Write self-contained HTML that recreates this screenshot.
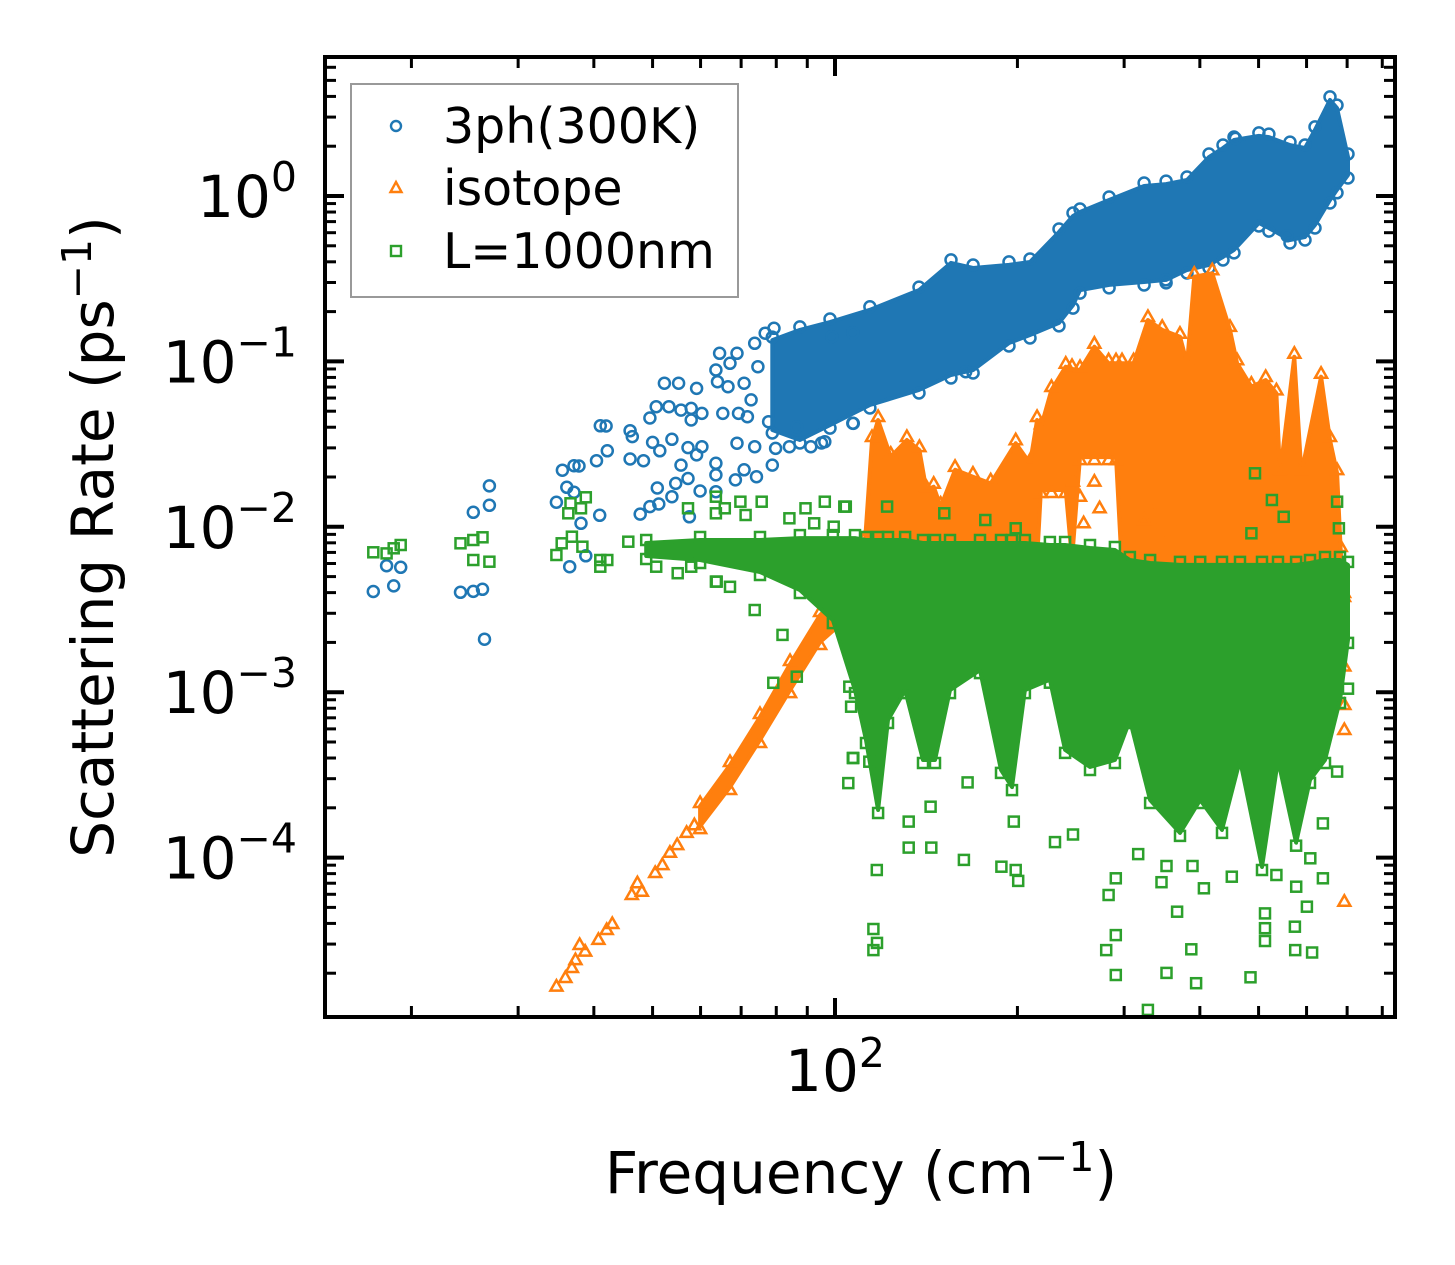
<!DOCTYPE html>
<html><head><meta charset="utf-8"><style>
html,body{margin:0;padding:0;background:#fff;}
svg{display:block;font-family:"DejaVu Sans","Liberation Sans",sans-serif;}
</style></head><body>
<svg id="chart" width="1455" height="1265" viewBox="0 0 1455 1265" xmlns="http://www.w3.org/2000/svg">
<defs><clipPath id="plotclip"><rect x="325" y="57" width="1070" height="960"/></clipPath></defs>
<rect x="0" y="0" width="1455" height="1265" fill="#fff"/>
<g id="marks" clip-path="url(#plotclip)"></g>
<g id="axes"></g>
<text x="861" y="1193" font-size="58" text-anchor="middle">Frequency (cm<tspan font-size="41" dy="-22">−1</tspan><tspan dy="22">)</tspan></text>
<text transform="translate(113,537) rotate(-90)" x="0" y="0" font-size="58" text-anchor="middle">Scattering Rate (ps<tspan font-size="41" dy="-22">−1</tspan><tspan dy="22">)</tspan></text>
<g>
<rect x="351" y="84" width="387" height="213" fill="#fff" fill-opacity="0.8" stroke="#999" stroke-width="2"/>
<circle cx="396" cy="126" r="5" fill="none" stroke="#1f77b4" stroke-width="2.4"/>
<text x="443" y="143" font-size="49">3ph(300K)</text>
<polygon points="396,182 390.5,192 401.5,192" fill="none" stroke="#ff7f0e" stroke-width="2.4"/>
<text x="443" y="205" font-size="49">isotope</text>
<rect x="391" y="246" width="10" height="10" fill="none" stroke="#2ca02c" stroke-width="2.4"/>
<text x="443" y="268" font-size="49">L=1000nm</text>
</g>
</svg>
<script>
// ---- data (frequency in cm^-1, scattering rate in ps^-1) ----
const blueBandF = [78.8,87.5,98.1,114.2,137.6,155.4,169.0,193.7,209.8,234.2,247.0,253.7,283.3,323.6,351.8,380.9,414.2,436.8,455.4,500.7,520.1,563.4,596.5,619.6,655.9,673.6,702.3];
const blueBandHi = [0.1346,0.155,0.173,0.205,0.270,0.394,0.367,0.383,0.399,0.606,0.757,0.800,0.946,1.15,1.18,1.25,1.72,1.95,2.18,2.31,2.27,2.03,1.95,2.51,3.81,3.40,1.72];
const blueBandLo = [0.0385,0.0335,0.0412,0.0545,0.0672,0.0828,0.0887,0.1292,0.1445,0.171,0.219,0.270,0.290,0.302,0.311,0.357,0.383,0.428,0.472,0.687,0.640,0.542,0.565,0.668,0.946,1.09,1.34];
const bluePtsF = [17.3,18.2,18.7,19.2,24.1,25.3,25.3,26.2,26.9,26.9,26.4,34.7,35.5,36.1,37.1,37.8,37.1,38.1,40.9,36.5,38.8,40.4,42.1,41.0,41.9,45.9,46.3,45.9,48.3,47.7,49.5,51.2,50.9,52.3,55.2,50.0,51.4,49.5,50.7,53.2,53.8,55.7,57.9,59.1,60.3,57.2,60.3,59.1,55.7,54.6,57.2,59.9,53.8,57.5,63.6,64.0,64.5,68.9,66.6,65.3,69.3,71.7,63.6,63.6,68.5,70.8,74.2,68.9,73.7,78.8,79.8,63.6,73.7,76.7,79.3,74.6,70.8,72.7,77.7,84.1,91.2,96.2,107,67.1,57.9,557.2,351.4,164.3,107.2,457.9,98.8,107,86.5,95];
const bluePtsR = [0.00406,0.00582,0.00439,0.00569,0.00402,0.01224,0.00407,0.00419,0.01766,0.01349,0.00209,0.01406,0.02198,0.01733,0.0234,0.0233,0.01617,0.0105,0.01174,0.00574,0.00668,0.0251,0.0288,0.0408,0.0407,0.0381,0.0351,0.0257,0.0251,0.01194,0.01324,0.01374,0.01717,0.0738,0.0738,0.0324,0.0288,0.0455,0.0532,0.0532,0.0338,0.0508,0.0520,0.0687,0.0485,0.0301,0.0305,0.0272,0.0236,0.0183,0.0196,0.01645,0.0152,0.0115,0.0887,0.0754,0.112,0.112,0.0703,0.0485,0.0485,0.0463,0.0242,0.0206,0.0192,0.0221,0.0201,0.0320,0.0305,0.0236,0.0298,0.0163,0.1286,0.148,0.1585,0.0929,0.0738,0.0585,0.0432,0.0305,0.0305,0.0327,0.0423,0.0974,0.0442,0.575,0.311,0.0866,0.0422,2.23,0.1410,0.149,0.0402,0.0321];

const orangeBandF = [59.9,67.1,75.2,84.3,94.5,103.9,112.1,115.1,117.8,123.6,131.4,137.8,141.5,145.5,149.4,157.8,168.9,180.7,198.7,209.8,215.5,218.7,227.6,240.3,246.1,253.7,267.9,282.8,290.9,297.6,311.0,328.4,346.7,370.9,381.1,391.6,419.3,448.5,460.8,486.5,513.7,535.1,542.4,572.8,588.4,634.0,655.9,673.9,683.2,691.8];
const orangeBandHi = [0.000205,0.000363,0.000708,0.00148,0.00293,0.00415,0.00832,0.0335,0.0442,0.0265,0.0335,0.0291,0.01668,0.01747,0.01324,0.0221,0.0201,0.0183,0.0320,0.0242,0.0442,0.040,0.0672,0.0929,0.090,0.0887,0.1227,0.0974,0.0974,0.0974,0.0974,0.178,0.155,0.141,0.0974,0.325,0.341,0.155,0.0974,0.0703,0.0772,0.0641,0.0211,0.1067,0.0211,0.0808,0.0335,0.0211,0.00724,0.00361];
const orangeBandLo = [0.000155,0.000267,0.000514,0.00103,0.00201,0.00273,0.00361,0.00512,0.00512,0.00512,0.00512,0.00512,0.00512,0.00512,0.00512,0.00512,0.00512,0.00512,0.00512,0.00512,0.0063,0.01668,0.01668,0.01668,0.0063,0.0264,0.0264,0.0264,0.0264,0.00548,0.00548,0.00548,0.00548,0.00548,0.00548,0.00548,0.00548,0.00548,0.00548,0.00548,0.00548,0.00548,0.00548,0.00548,0.00548,0.00548,0.00548,0.00548,0.00548,0.00415];
const orangePtsF = [34.7,35.9,36.8,37.9,38.7,40.7,42.0,46.2,48.0,50.5,53.4,56.9,37.3,42.9,47.2,51.9,54.9,58.6,247.0,267.9,253.7,273.3,257.2,323.6,339.6,335.0,368.1,692.6,692.6,692.6,692.6];
const orangePtsR = [1.66e-5,1.87e-5,2.15e-5,2.96e-5,2.70e-5,3.18e-5,3.65e-5,5.94e-5,6.22e-5,8.07e-5,1.07e-4,1.41e-4,2.4e-5,3.97e-5,7.0e-5,9.0e-5,1.19e-4,1.57e-4,0.01874,0.01874,0.0152,0.01294,0.0105,0.0110,0.00934,0.01234,0.00934,5.41e-5,5.91e-4,8.37e-4,1.43e-3];

const greenBandF = [48.8,59.9,75.2,87.5,99.2,107.9,112.5,117.8,122.3,130.5,139.7,146.2,154.8,173.5,187.9,195.9,205.8,226.3,239.7,263.5,289.7,306.7,331.1,370.9,400.5,435.1,465.9,506.6,538.3,576.7,607.9,643.6,681.2,702.3];
const greenBandHi = [0.00798,0.00832,0.00832,0.00855,0.00855,0.00855,0.00832,0.00832,0.00832,0.00832,0.00798,0.00798,0.00798,0.00798,0.00798,0.00798,0.00798,0.00776,0.00776,0.00744,0.00724,0.0063,0.00604,0.00588,0.00588,0.00588,0.00588,0.00588,0.00588,0.00588,0.00604,0.0063,0.0063,0.00588];
const greenBandLo = [0.00666,0.0063,0.00533,0.00415,0.00273,0.00103,0.000514,0.000194,0.000679,0.00103,0.000389,0.000389,0.00103,0.00136,0.000339,0.000267,0.00103,0.00119,0.000448,0.000353,0.000389,0.000679,0.000223,0.000141,0.000223,0.000147,0.000389,8.77e-5,0.000389,0.000123,0.000295,0.000389,0.000897,0.00207];
const greenPtsF = [17.3,18.2,18.7,19.2,24.1,25.3,26.2,25.3,26.9,34.7,35.4,36.6,38.8,38.1,36.3,36.8,38.3,41.0,42.1,41.0,45.6,50.7,55.0,57.9,57.2,63.6,63.6,65.8,69.8,75.7,71.2,84.1,89.4,96.2,104.2,92.4,63.6,67.1,73.7,81.9,105.6,106.3,117.2,115.7,117.3,115.7,107.0,105.2,79.1,86.5,63.8,107.2,113.9,132.3,132.3,144.2,143.8,163.2,165.5,188.2,198.7,200.6,197.3,230.7,247.0,282.8,280.2,290.6,290.6,290.6,316.5,345.7,352.4,366.9,352.4,387.2,394.3,389.0,406.2,451.6,484.8,512.4,512.4,512.4,535.1,576.8,574.1,574.6,612.8,600.7,638.4,608.7,638.4,673.9,702.2,328.4,493.3,525.9,673.9,550.0,678.4,486.5,103.6,121.9,151.5,177.0,198.7,99.5];
const greenPtsR = [0.00701,0.00691,0.00741,0.00776,0.00795,0.00832,0.00864,0.0063,0.00615,0.00675,0.00795,0.01387,0.01508,0.01294,0.01207,0.00871,0.00758,0.0063,0.0063,0.00574,0.00813,0.00574,0.00524,0.00574,0.01294,0.0152,0.01207,0.01294,0.01419,0.01419,0.01178,0.01125,0.01294,0.01419,0.01324,0.0105,0.00466,0.00434,0.00314,0.00222,0.00108,0.000817,8.41e-5,3.70e-5,3.05e-5,2.76e-5,4.0e-4,2.82e-4,0.00114,0.00124,0.00466,0.0004,3.80e-4,1.65e-4,1.15e-4,1.15e-4,2.03e-4,9.68e-5,2.85e-4,8.81e-5,8.41e-5,7.23e-5,1.65e-4,1.24e-4,1.38e-4,5.94e-5,2.76e-5,3.40e-5,1.95e-5,7.5e-5,1.05e-4,7.10e-5,8.9e-5,4.71e-5,2.01e-5,2.79e-5,1.74e-5,8.9e-5,6.52e-5,7.67e-5,1.89e-5,4.60e-5,3.74e-5,3.13e-5,7.85e-5,6.67e-5,3.82e-5,2.76e-5,2.67e-5,5.05e-5,7.5e-5,9.9e-5,1.61e-4,3.31e-4,1.05e-3,1.2e-5,0.02105,0.01452,0.01419,0.0115,0.0098,0.00914,0.01324,0.01324,0.01207,0.0110,0.0098,0.01002];

const xMajorTicks = [100];
const xMinorTicks = [20,30,40,50,60,70,80,90,200,300,400,500,600,700,800];
const yMajorTicks = [1,0.1,0.01,0.001,0.0001];
const yMajorExp = ["0","−1","−2","−3","−4"];
const yMinorTicks = [2e-5,3e-5,4e-5,5e-5,6e-5,7e-5,8e-5,9e-5,2e-4,3e-4,4e-4,5e-4,6e-4,7e-4,8e-4,9e-4,2e-3,3e-3,4e-3,5e-3,6e-3,7e-3,8e-3,9e-3,0.02,0.03,0.04,0.05,0.06,0.07,0.08,0.09,0.2,0.3,0.4,0.5,0.6,0.7,0.8,0.9,2,3,4,5,6];

// ---- scales ----
const PL=325, PR=1395, PT=57, PB=1017;
function xs(f){ return 835 + (Math.log10(f) - 2) * 606; }
function ys(v){ return 196 - Math.log10(v) * 165.4; }
const NS = "http://www.w3.org/2000/svg";
const marks = document.getElementById('marks');
const axes = document.getElementById('axes');
function mk(tag, attrs, parent){
  const el = document.createElementNS(NS, tag);
  for (const k in attrs) el.setAttribute(k, attrs[k]);
  parent.appendChild(el);
  return el;
}
function marker(shape, x, y, g){
  let el;
  if (shape === 'circle') el = mk('circle', {cx: x.toFixed(1), cy: y.toFixed(1), r: 5.5}, g);
  else if (shape === 'tri') el = mk('polygon', {points: x + ',' + (y - 6.5) + ' ' + (x - 6) + ',' + (y + 4) + ' ' + (x + 6) + ',' + (y + 4)}, g);
  else el = mk('rect', {x: (x - 5).toFixed(1), y: (y - 5).toFixed(1), width: 10, height: 10}, g);
  
  
}
function band(F, HI, LO, color, name, shape){
  const pts = [];
  for (let i = 0; i < F.length; i++) pts.push(xs(F[i]).toFixed(1) + ',' + ys(HI[i]).toFixed(1));
  for (let i = F.length - 1; i >= 0; i--) pts.push(xs(F[i]).toFixed(1) + ',' + ys(LO[i]).toFixed(1));
  const p = mk('polygon', {points: pts.join(' '), fill: color, stroke: color, 'stroke-width': 4, 'stroke-linejoin': 'round'}, marks);
  
  
  const g = mk('g', {fill: 'none', stroke: color, 'stroke-width': 2.5}, marks);
  
  
  for (let i = 0; i < F.length; i++){
    marker(shape, xs(F[i]), ys(HI[i]) - 3, g);
    marker(shape, xs(F[i]), ys(LO[i]) + 3, g);
  }
}
function scatter(F, R, color, name, shape){
  const g = mk('g', {fill: 'none', stroke: color, 'stroke-width': 2.5}, marks);
  
  
  for (let i = 0; i < F.length; i++) marker(shape, xs(F[i]), ys(R[i]), g);
}
band(blueBandF, blueBandHi, blueBandLo, '#1f77b4', '3ph-dense-band', 'circle');
scatter(bluePtsF, bluePtsR, '#1f77b4', '3ph-series', 'circle');
band(orangeBandF, orangeBandHi, orangeBandLo, '#ff7f0e', 'isotope-dense-band', 'tri');
scatter(orangePtsF, orangePtsR, '#ff7f0e', 'isotope-series', 'tri');
band(greenBandF, greenBandHi, greenBandLo, '#2ca02c', 'boundary-dense-band', 'square');
scatter(greenPtsF, greenPtsR, '#2ca02c', 'boundary-series', 'square');

// ---- axes ----
function tick(x1, y1, x2, y2, w, name){
  const l = mk('line', {x1: x1, y1: y1, x2: x2, y2: y2, stroke: '#000', 'stroke-width': w}, axes);
  
  
}
xMajorTicks.forEach(function(f){
  const x = xs(f);
  tick(x, PB, x, PB - 19, 4, 'x-major-tick');
  tick(x, PT, x, PT + 19, 4, 'x-major-tick-top');
  const t = mk('text', {x: x, y: 1091, 'font-size': 58, 'text-anchor': 'middle'}, axes);
  
  
  t.innerHTML = '10<tspan font-size="41" dy="-24">2</tspan>';
});
xMinorTicks.forEach(function(f){
  const x = xs(f);
  tick(x, PB, x, PB - 11, 3, 'x-minor-tick');
  tick(x, PT, x, PT + 11, 3, 'x-minor-tick-top');
});
yMajorTicks.forEach(function(v, i){
  const y = ys(v);
  tick(PL, y, PL + 19, y, 4, 'y-major-tick');
  tick(PR, y, PR - 19, y, 4, 'y-major-tick-right');
  const t = mk('text', {x: 297, y: y + 21, 'font-size': 58, 'text-anchor': 'end'}, axes);
  
  
  t.innerHTML = '10<tspan font-size="41" dy="-26">' + yMajorExp[i] + '</tspan>';
});
yMinorTicks.forEach(function(v){
  const y = ys(v);
  if (y < PT || y > PB) return;
  tick(PL, y, PL + 11, y, 3, 'y-minor-tick');
  tick(PR, y, PR - 11, y, 3, 'y-minor-tick-right');
});
const frame = mk('rect', {x: PL, y: PT, width: PR - PL, height: PB - PT, fill: 'none', stroke: '#000', 'stroke-width': 4}, axes);


</script>
</body></html>
